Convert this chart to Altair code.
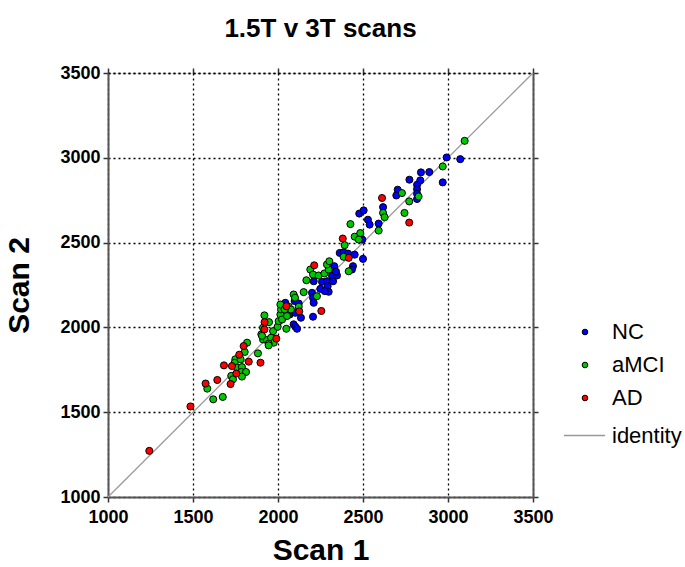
import altair as alt
import pandas as pd

FONT = "Liberation Sans"

# Brain volume measured on scan 1 (1.5T) and scan 2 (3T), by diagnostic group
nc_scan1 = [2043, 2098, 2069, 2122, 2102, 2135, 2092, 2102, 2112, 2206, 2210, 2200, 2206, 2210,
            2249, 2259, 2288, 2292, 2298, 2318, 2324, 2331, 2347, 2406, 2441, 2435, 2363, 2386,
            2412, 2451, 2500, 2341, 2478, 2504, 2529, 2539, 2592, 2618, 2496, 2704, 2696, 2773,
            2818, 2818, 2818, 2818, 2841, 2890, 2837, 2992, 3072, 2969, 2275]
nc_scan2 = [2145, 2155, 2076, 2141, 2086, 2057, 2018, 2004, 1992, 2063, 2272, 2204, 2175, 2145,
            2227, 2269, 2272, 2243, 2210, 2306, 2272, 2361, 2306, 2419, 2361, 2341, 2439, 2443,
            2435, 2429, 2404, 2329, 2671, 2690, 2635, 2606, 2612, 2709, 2518, 2812, 2778, 2871,
            2841, 2815, 2788, 2757, 2914, 2916, 2867, 3002, 2992, 2855, 2214]

amci_scan1 = [1584, 1619, 1675, 1725, 1735, 1749, 1745, 1780, 1759, 1788, 1784, 1812, 1788, 1804,
              1818, 1882, 1902, 1920, 1947, 1912, 1912, 1935, 1959, 1975, 1945, 1971, 1998, 2004,
              2049, 2014, 2018, 2014, 2063, 2024, 2053, 2076, 2092, 2100, 2122, 2151, 2167, 2190,
              2206, 2239, 2229, 2273, 2298, 2288, 2302, 2386, 2416, 2392, 2426, 2451, 2484, 2475,
              2618, 2627, 2592, 2744, 2729, 2772, 2827, 2969, 3098, 1906, 1945, 2039]
amci_scan2 = [1639, 1576, 1590, 1714, 1694, 1812, 1791, 1812, 1763, 1766, 1737, 1737, 1710, 1855,
              1910, 1847, 1959, 2071, 2031, 1998, 1929, 1925, 1939, 1910, 1904, 1978, 2004, 2037,
              1992, 2076, 2106, 2135, 2122, 2047, 2067, 2106, 2194, 2175, 2122, 2208, 2278, 2341,
              2312, 2306, 2184, 2318, 2341, 2371, 2390, 2416, 2331, 2485, 2609, 2535, 2556, 2518,
              2675, 2650, 2571, 2675, 2792, 2743, 2772, 2949, 3100, 1950, 1894, 2106]

ad_scan1 = [1243, 1485, 1574, 1643, 1682, 1721, 1729, 1772, 1755, 1798, 1828, 1897, 1921, 1920,
            1990, 2049, 2125, 2255, 2213, 2416, 2381, 2612, 2772]
ad_scan2 = [1272, 1534, 1669, 1690, 1776, 1666, 1772, 1839, 1728, 1890, 1798, 1792, 2031, 1988,
            1934, 2125, 2095, 2097, 2366, 2410, 2524, 2763, 2618]

groups = ["NC", "aMCI", "AD"]
group_colors = ["#0000ff", "#00c800", "#ff0000"]

ticks = [1000, 1500, 2000, 2500, 3000, 3500]
identity_vals = [1000, 3500]

df = pd.concat([
    pd.DataFrame({"scan1": nc_scan1, "scan2": nc_scan2, "group": "NC"}),
    pd.DataFrame({"scan1": amci_scan1, "scan2": amci_scan2, "group": "aMCI"}),
    pd.DataFrame({"scan1": ad_scan1, "scan2": ad_scan2, "group": "AD"}),
], ignore_index=True)
df["order"] = df["group"].map({"NC": 0, "aMCI": 1, "AD": 2})

line_df = pd.DataFrame({"scan1": identity_vals, "scan2": identity_vals, "name": "identity"})

scale = alt.Scale(domain=[1000, 3500], nice=False, zero=False)

axis_common = dict(
    values=ticks, format="d", labelFlush=False, labelFont=FONT, labelFontSize=18,
    labelFontWeight="bold", labelColor="black", titleFont=FONT, titleFontSize=30,
    titleFontWeight="bold", titleColor="black", domainColor="#555555", domainWidth=2,
    tickColor="#333333", tickWidth=1.5, tickSize=5, grid=True, gridColor="black",
    gridDash=[2, 3], gridWidth=1.3,
)

points = alt.Chart(df).mark_circle(size=50, stroke="black", strokeWidth=1, opacity=1).encode(
    x=alt.X("scan1:Q", scale=scale,
            axis=alt.Axis(title="Scan 1", labelPadding=6, titlePadding=9, **axis_common)),
    y=alt.Y("scan2:Q", scale=scale,
            axis=alt.Axis(title="Scan 2", labelPadding=3, titlePadding=25, **axis_common)),
    fill=alt.Fill("group:N", scale=alt.Scale(domain=groups, range=group_colors),
                  legend=alt.Legend(title=None, orient="none", legendX=466, legendY=248,
                                    symbolType="circle", symbolSize=32, symbolStrokeColor="black",
                                    symbolStrokeWidth=1, labelFont=FONT, labelFontSize=22,
                                    labelColor="black", labelOffset=16, rowPadding=11, padding=0)),
    order=alt.Order("order:Q"),
)

frame_top = dict(values=ticks, labels=False, title=None, grid=False, domainColor="black",
                 domainWidth=1.3, domainDash=[2, 3], tickColor="#333333", tickWidth=1.5,
                 tickSize=5)
frame_right = dict(values=ticks, labels=False, title=None, grid=False, domainColor="#555555",
                   domainWidth=2, tickColor="#333333", tickWidth=1.5, tickSize=5)

identity = alt.Chart(line_df).mark_line(strokeWidth=1.3).encode(
    x=alt.X("scan1:Q", scale=scale, axis=alt.Axis(orient="top", **frame_top)),
    y=alt.Y("scan2:Q", scale=scale, axis=alt.Axis(orient="right", **frame_right)),
    stroke=alt.Stroke("name:N", scale=alt.Scale(domain=["identity"], range=["#999999"]),
                      legend=alt.Legend(title=None, orient="none", legendX=455, legendY=341,
                                        symbolType="stroke", symbolSize=1700,
                                        symbolStrokeWidth=1.5, labelFont=FONT, labelFontSize=22,
                                        labelColor="black", labelOffset=6, padding=0)),
)

chart = alt.layer(identity, points).resolve_axis(x="independent", y="independent").properties(
    width=425,
    height=424,
    title=alt.TitleParams("1.5T v 3T scans", font=FONT, fontSize=26, fontWeight="bold",
                          color="black", anchor="middle", offset=22),
    autosize=alt.AutoSizeParams(type="none"),
    padding={"left": 108, "top": 73, "right": 152, "bottom": 70},
).configure_view(stroke=None).configure(background="white")

chart.save("out.html", embed_options={"renderer": "svg", "actions": False})
